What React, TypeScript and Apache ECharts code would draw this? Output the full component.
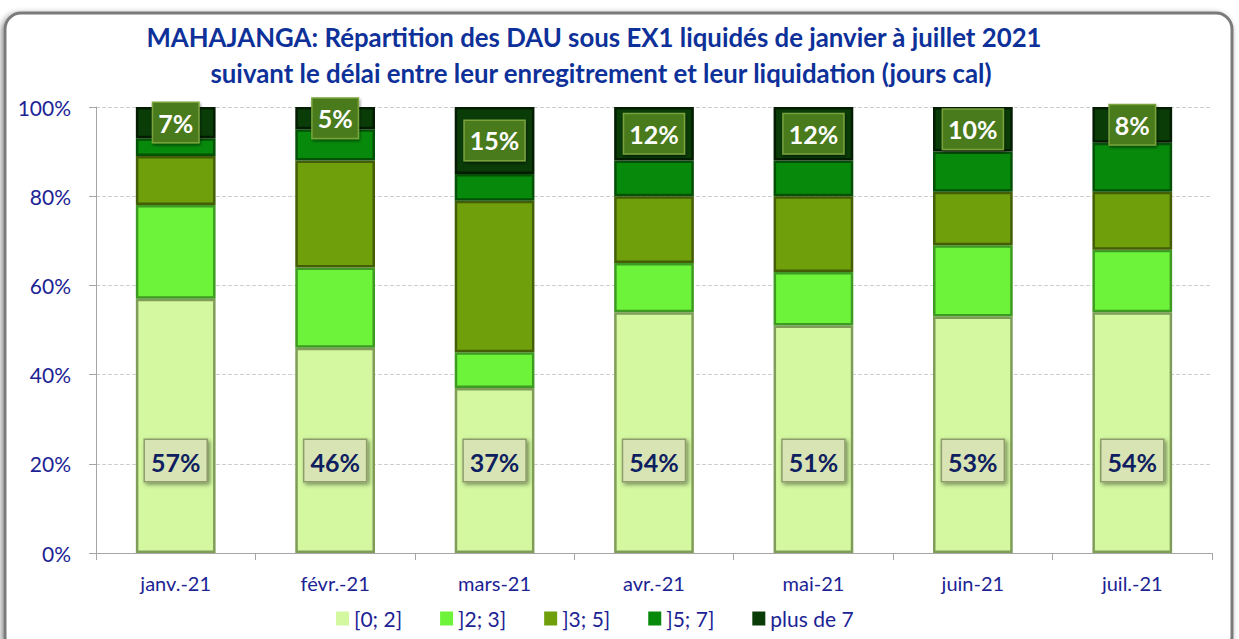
import React, { useEffect, useRef } from "react";
import * as echarts from "echarts";

const titleLine1 = "MAHAJANGA: Répartition des DAU sous EX1 liquidés de janvier à juillet 2021";
const titleLine2 = "suivant le délai entre leur enregitrement et leur liquidation (jours cal)";

const categories = ["janv.-21", "févr.-21", "mars-21", "avr.-21", "mai-21", "juin-21", "juil.-21"];
const seriesNames = ["[0; 2]", "]2; 3]", "]3; 5]", "]5; 7]", "plus de 7"];
const s0to2 = [57, 46, 37, 54, 51, 53, 54];
const s2to3 = [21, 18, 8, 11, 12, 16, 14];
const s3to5 = [11, 24, 34, 15, 17, 12, 13];
const s5to7 = [4, 7, 6, 8, 8, 9, 11];
const sOver7 = [7, 5, 15, 12, 12, 10, 8];
const yTicks = [0, 20, 40, 60, 80, 100];

const fills = ["#d3f8a0", "#6cf33a", "#6f9f0a", "#078a0b", "#0a3c08"];
const borders = ["#7f9c58", "#3e9a22", "#435e06", "#045006", "#031c02"];

const FONT = "Lato, 'Open Sans', sans-serif";
const AXIS_TEXT = "#1c2394";

export default function App() {
  const ref = useRef<HTMLDivElement>(null);
  useEffect(() => {
    if (!ref.current) return;
    const chart = echarts.init(ref.current, undefined, { renderer: "svg" });
    const values = [s0to2, s2to3, s3to5, s5to7, sOver7];
    const series = values.map((arr, i) => {
      let label: any = { show: false };
      if (i === 0) {
        label = {
          show: true,
          position: "insideBottom",
          distance: 72,
          formatter: "{c}%",
          color: "#0e2060",
          fontWeight: "bold",
          fontSize: 25,
          fontFamily: FONT,
          backgroundColor: "#d9e4b4",
          borderColor: "#8e9c6c",
          borderWidth: 1.5,
          padding: [9, 6, 7, 6],
          shadowColor: "rgba(0,0,0,0.45)",
          shadowBlur: 4,
          shadowOffsetX: 2,
          shadowOffsetY: 2,
        };
      } else if (i === 4) {
        label = {
          show: true,
          position: "inside",
          formatter: "{c}%",
          color: "#ffffff",
          fontWeight: "bold",
          fontSize: 25,
          fontFamily: FONT,
          backgroundColor: "#4a7a1c",
          borderColor: "#79a23e",
          borderWidth: 1.5,
          padding: [8, 5, 6, 5],
          shadowColor: "rgba(0,0,0,0.45)",
          shadowBlur: 3,
          shadowOffsetX: 1,
          shadowOffsetY: 2,
        };
      }
      return {
        name: seriesNames[i],
        type: "bar",
        stack: "total",
        barWidth: "50%",
        data: arr,
        itemStyle: { color: fills[i], borderColor: borders[i], borderWidth: 2.5 },
        label,
      };
    });

    chart.setOption({
      animation: false,
      backgroundColor: "transparent",
      graphic: [
        {
          type: "rect",
          z: -10,
          silent: true,
          shape: { x: 5, y: 13, width: 1227, height: 640, r: 16 },
          style: {
            fill: "#ffffff",
            stroke: "#7a7a7a",
            lineWidth: 3,
            shadowBlur: 6,
            shadowColor: "rgba(0,0,0,0.45)",
            shadowOffsetX: -2,
            shadowOffsetY: 2,
          },
        },
        {
          type: "text",
          x: 594,
          y: 37,
          style: {
            text: titleLine1,
            textAlign: "center",
            textVerticalAlign: "middle",
            fontSize: 25.8,
            fontWeight: "bold",
            fontFamily: FONT,
            fill: "#0e3199",
          },
        },
        {
          type: "text",
          x: 601,
          y: 73,
          style: {
            text: titleLine2,
            textAlign: "center",
            textVerticalAlign: "middle",
            fontSize: 25.8,
            fontWeight: "bold",
            fontFamily: FONT,
            fill: "#0e3199",
          },
        },
      ],
      grid: { left: 96, right: 27, top: 107, bottom: 86 },
      legend: {
        data: seriesNames,
        left: 331,
        top: 603,
        icon: "rect",
        itemWidth: 13,
        itemHeight: 14,
        itemGap: 38,
        itemStyle: { borderWidth: 0 },
        textStyle: { fontSize: 21, color: AXIS_TEXT, fontFamily: FONT },
      },
      xAxis: {
        type: "category",
        data: categories,
        axisLine: { lineStyle: { color: "#a6a6a6", width: 1 } },
        axisTick: { show: true, length: 7, lineStyle: { color: "#a6a6a6" } },
        axisLabel: { fontSize: 20, color: AXIS_TEXT, fontFamily: FONT, margin: 20 },
      },
      yAxis: {
        type: "value",
        min: yTicks[0],
        max: yTicks[yTicks.length - 1],
        interval: 20,
        axisLine: { show: true, lineStyle: { color: "#a6a6a6", width: 1 } },
        axisTick: { show: true, length: 7, lineStyle: { color: "#a6a6a6" } },
        axisLabel: { formatter: "{value}%", fontSize: 21, color: AXIS_TEXT, fontFamily: FONT, margin: 25 },
        splitLine: { show: true, lineStyle: { color: "#cfcfcf", type: "dashed" } },
      },
      series,
    });
    return () => chart.dispose();
  }, []);
  return (
    <div style={{ position: "fixed", left: 0, top: 0, width: 1239, height: 639, background: "#fff" }}>
      <div ref={ref} style={{ width: 1239, height: 639 }} />
    </div>
  );
}
